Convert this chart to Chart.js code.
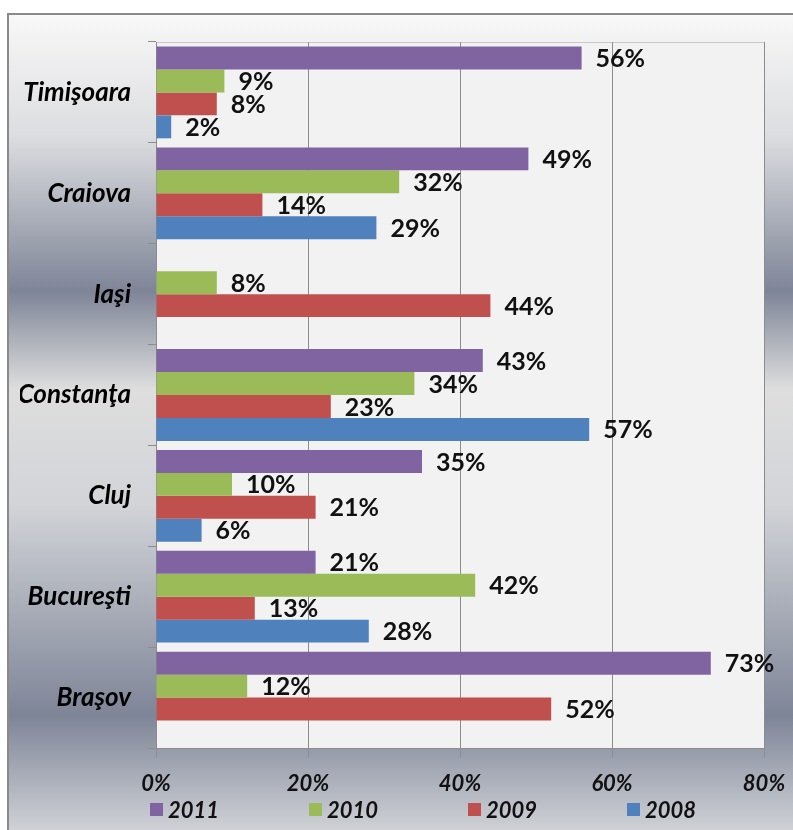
<!DOCTYPE html>
<html>
<head>
<meta charset="utf-8">
<script src="https://cdn.jsdelivr.net/npm/chart.js@4"></script>
<style>
  body { margin: 0; background: #fff; }
  #wrap { position: relative; width: 793px; height: 830px; }
  #legend {
    position: absolute; left: 150px; top: 796px;
    display: flex; font: italic bold 22px Lato, sans-serif; color: #111;
  }
  #legend .item { width: 159px; display: flex; align-items: center; }
  #legend .box { width: 13px; height: 13px; margin-right: 5px; }
</style>
</head>
<body>
<div id="wrap">
  <canvas id="myChart" width="793" height="830"></canvas>
  <div id="legend"></div>
</div>
<script>
// DATA

const cities = ['Timişoara', 'Craiova', 'Iaşi', 'Constanţa', 'Cluj', 'Bucureşti', 'Braşov'];
const years = ['2011', '2010', '2009', '2008'];
const colors = ['#8064A2', '#9BBB59', '#C0504D', '#4F81BD'];

const values2011 = [56, 49, null, 43, 35, 21, 73];
const values2010 = [9, 32, 8, 34, 10, 42, 12];
const values2009 = [8, 14, 44, 23, 21, 13, 52];
const values2008 = [2, 29, null, 57, 6, 28, null];

const xTicks = [0, 20, 40, 60, 80];

const allValues = [values2011, values2010, values2009, values2008];

// BACKGROUND + FRAME

const backgroundPlugin = {
    id: 'background',
    beforeDraw(chart) {
        const ctx = chart.ctx;
        const area = chart.chartArea;
        const w = chart.width, h = chart.height;

        ctx.save();
        ctx.fillStyle = '#fff';
        ctx.fillRect(0, 0, w, h);

        const grad = ctx.createLinearGradient(0, 14, 0, h);
        grad.addColorStop(0, '#f8f8f8');
        grad.addColorStop(0.15, '#dcdde0');
        grad.addColorStop(0.34, '#7e8597');
        grad.addColorStop(0.46, '#dedede');
        grad.addColorStop(0.6, '#d2d4d8');
        grad.addColorStop(0.86, '#7e8597');
        grad.addColorStop(1, '#cfd1d6');
        ctx.fillStyle = grad;
        ctx.fillRect(8, 14, w - 8, h - 14);

        ctx.fillStyle = '#f2f2f2';
        ctx.fillRect(area.left, area.top, area.right - area.left, area.bottom - area.top);
        ctx.strokeStyle = '#c8c8c8';
        ctx.lineWidth = 1;
        ctx.strokeRect(area.left + 0.5, area.top + 0.5, area.right - area.left, area.bottom - area.top);

        ctx.strokeStyle = '#8a8a8a';
        ctx.lineWidth = 2;
        ctx.beginPath();
        ctx.moveTo(8, h);
        ctx.lineTo(8, 14);
        ctx.lineTo(w, 14);
        ctx.stroke();
        ctx.restore();
    }
};

// VALUE LABELS NEXT TO THE BARS

const valueLabelPlugin = {
    id: 'valueLabels',
    afterDatasetsDraw(chart) {
        const ctx = chart.ctx;
        ctx.save();
        ctx.font = 'bold 25px Lato, sans-serif';
        ctx.fillStyle = '#111';
        ctx.textAlign = 'left';
        ctx.textBaseline = 'middle';
        chart.data.datasets.forEach((ds, i) => {
            const meta = chart.getDatasetMeta(i);
            meta.data.forEach((bar, j) => {
                const v = ds.data[j];
                if (v === null || v === undefined) return;
                ctx.fillText(v + '%', bar.x + 14, bar.y + 1);
            });
        });
        ctx.restore();
    }
};

const ctx = document.getElementById('myChart').getContext('2d');

new Chart(ctx, {
    type: 'bar',
    data: {
        labels: cities,
        datasets: years.map((y, i) => ({
            label: y,
            data: allValues[i],
            backgroundColor: colors[i],
            borderWidth: 0,
            categoryPercentage: 0.91,
            barPercentage: 1
        }))
    },
    options: {
        indexAxis: 'y',
        responsive: false,
        animation: false,
        layout: { padding: { top: 42, right: 29, left: 20, bottom: 30 } },
        plugins: {
            legend: { display: false },
            tooltip: { enabled: false }
        },
        scales: {
            x: {
                min: 0,
                max: 80,
                afterBuildTicks: scale => { scale.ticks = xTicks.map(v => ({ value: v })); },
                afterFit: scale => {
                    scale.height = 52;
                    scale.paddingLeft = 0;
                    scale.paddingRight = 0;
                },
                ticks: {
                    callback: v => v + '%',
                    color: '#111',
                    padding: 13,
                    font: { family: 'Lato', style: 'italic', weight: 'bold', size: 22 }
                },
                grid: { color: '#8c8c8c', tickLength: 10 },
                border: { color: '#8c8c8c' }
            },
            y: {
                afterFit: scale => {
                    scale.width = 136;
                    scale.paddingTop = 0;
                    scale.paddingBottom = 0;
                },
                ticks: {
                    color: '#000',
                    padding: 17,
                    font: { family: 'Lato', style: 'italic', weight: 'bold', size: 26 }
                },
                grid: { drawOnChartArea: false, tickLength: 8, color: '#8c8c8c', offset: true },
                border: { color: '#8c8c8c' }
            }
        }
    },
    plugins: [backgroundPlugin, valueLabelPlugin]
});

// LEGEND

const legend = document.getElementById('legend');
years.forEach((y, i) => {
    const item = document.createElement('div');
    item.className = 'item';
    item.innerHTML = `<span class="box" style="background:${colors[i]}"></span>${y}`;
    legend.appendChild(item);
});
</script>
</body>
</html>
